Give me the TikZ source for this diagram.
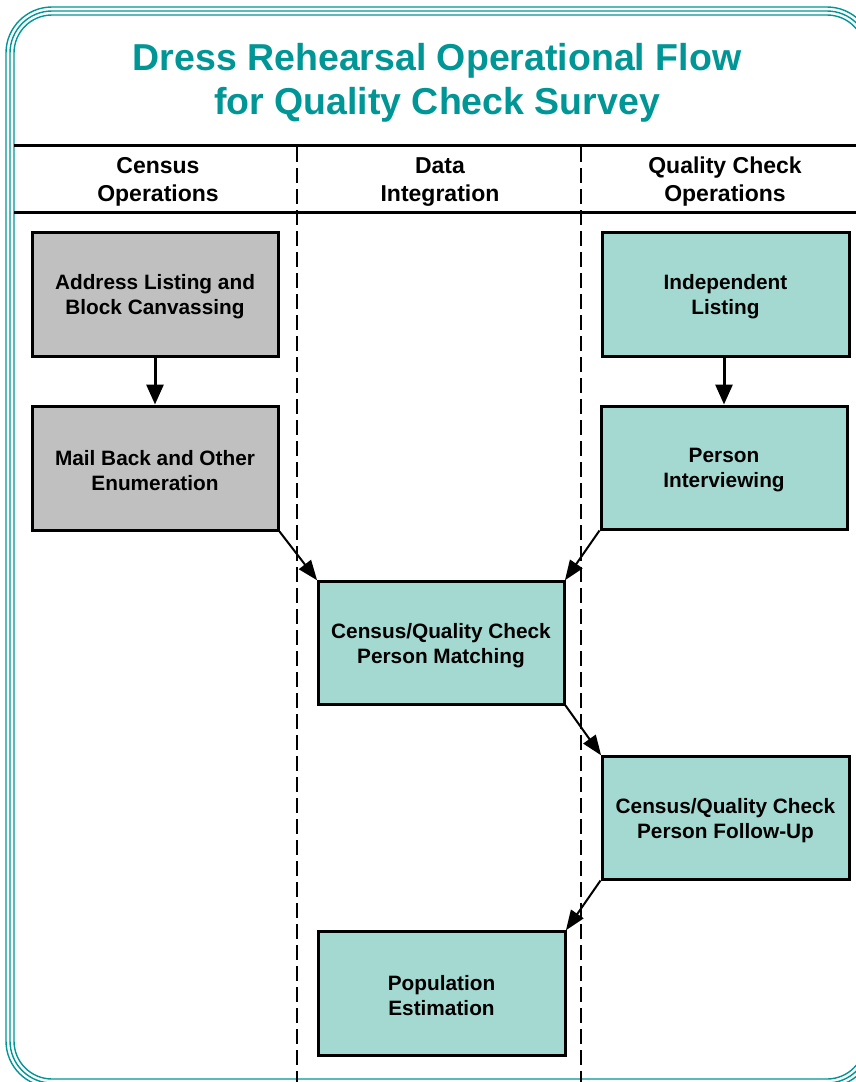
\documentclass[tikz,border=0pt]{standalone}
\usepackage{fontspec}
\setmainfont{Liberation Sans}
\usetikzlibrary{arrows.meta}
\definecolor{teal1}{RGB}{0,150,150}
\definecolor{boxteal}{RGB}{164,217,210}
\definecolor{boxgray}{RGB}{192,192,192}
\tikzset{
  frameline/.style={draw=teal1, line width=1.4pt},
  rule/.style={line width=3pt, black},
  lane/.style={line width=1.1pt, dash pattern=on 15pt off 6pt},
  box/.style={draw=black, line width=3pt, minimum width=246pt, minimum height=124pt, inner sep=0pt},
  graybox/.style={box, fill=boxgray},
  tealbox/.style={box, fill=boxteal},
  boxtext/.style={align=center, inner sep=0pt, font=\fontsize{20.8pt}{25pt}\selectfont\bfseries},
  head/.style={align=center, font=\fontsize{23pt}{28pt}\selectfont\bfseries},
  vflow/.style={line width=3pt, -{Triangle[length=20pt,width=17pt]}},
  dflow/.style={line width=2pt, -{Triangle[length=20pt,width=15pt]}, shorten >=-1pt}
}
\begin{document}
\begin{tikzpicture}[x=1pt,y=-1pt]
\useasboundingbox (0,0) rectangle (856,1082);
\fill[white] (0,0) rectangle (856,1082);
% frame
\draw[frameline, rounded corners=46pt] (6,7) rectangle (873,1087);
\draw[frameline, rounded corners=42pt] (10,11) rectangle (869,1083);
\draw[frameline, rounded corners=38pt] (14,15) rectangle (865,1079);
% title
\node[text=teal1, align=center, font=\fontsize{37.5pt}{44pt}\selectfont\bfseries] (title) at (437,82.5)
  {Dress Rehearsal Operational Flow\\for Quality Check Survey};
% rules
\coordinate (r1l) at (14,145); \coordinate (r1r) at (856,145);
\coordinate (r2l) at (14,212); \coordinate (r2r) at (856,212);
\draw[rule] (r1l) -- (r1r);
\draw[rule] (r2l) -- (r2r);
% lanes
\coordinate (l1t) at (297,147); \coordinate (l1b) at (297,1082);
\coordinate (l2t) at (581,147); \coordinate (l2b) at (581,1082);
\draw[lane] (l1t) -- (l1b);
\draw[lane] (l2t) -- (l2b);
% headers
\node[head] (h1) at (158,182) {Census\\Operations};
\node[head] (h2) at (440,182) {Data\\Integration};
\node[head] (h3) at (725,182) {Quality Check\\Operations};
% boxes
\node[graybox] (addr) at (155,294) {};
\node[graybox] (mail) at (155,468) {};
\node[tealbox, minimum width=247pt] (indep) at (725.5,294) {};
\node[tealbox, minimum height=123pt] (interv) at (724,467.5) {};
\node[tealbox, minimum height=123pt] (match) at (441,642.5) {};
\node[tealbox, minimum width=247pt, minimum height=123pt] (follow) at (725.5,817.5) {};
\node[tealbox, minimum width=247pt] (pop) at (441.5,993) {};
% box texts
\node[boxtext] (addrt) at ([yshift=-3pt]addr.center) {Address Listing and\\Block Canvassing};
\node[boxtext] (mailt) at ([yshift=-3pt]mail.center) {Mail Back and Other\\Enumeration};
\node[boxtext] (indept) at ([yshift=-3pt]indep.center) {Independent\\Listing};
\node[boxtext] (intervt) at ([yshift=-3pt]interv.center) {Person\\Interviewing};
\node[boxtext] (matcht) at ([yshift=-3pt]match.center) {Census/Quality Check\\Person Matching};
\node[boxtext] (followt) at ([yshift=-3pt]follow.center) {Census/Quality Check\\Person Follow-Up};
\node[boxtext] (popt) at ([yshift=-3pt]pop.center) {Population\\Estimation};
% connectors
\draw[vflow] (addr.south) -- (mail.north);
\draw[vflow] (indep.south -| interv.north) -- (interv.north);
\draw[dflow] (mail.south east) -- (match.north west);
\draw[dflow] (interv.south west) -- (match.north east);
\draw[dflow] (match.south east) -- (follow.north west);
\draw[dflow] (follow.south west) -- (pop.north east);
\end{tikzpicture}
\end{document}
